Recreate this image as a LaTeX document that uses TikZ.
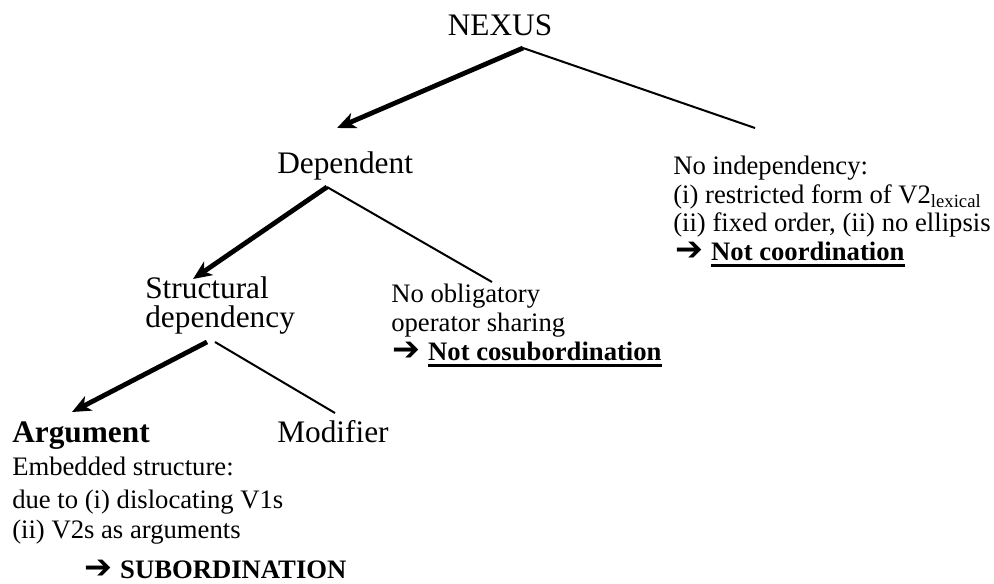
\documentclass[tikz,border=0pt]{standalone}
\usepackage{fontspec}
\setmainfont{Liberation Serif}
\newfontfamily\symfont{DejaVu Sans}
\usetikzlibrary{arrows.meta}

% type sizes for headings and for notes
\newcommand\headsize{\fontsize{23.5}{28}\selectfont}
\newcommand\notesize{\fontsize{20}{24}\selectfont}
% heavy right arrow and bold underlined conclusion
\newcommand\conclarrow{{\symfont\bfseries\fontsize{25}{25}\selectfont\raisebox{-0.5pt}{➔}}}
\newcommand\ulbold[1]{\setbox0=\hbox{\bfseries #1}\rlap{\rule[-5pt]{\wd0}{1.8pt}}\box0}

\begin{document}
\begin{tikzpicture}[x=0.75pt,y=-0.75pt,
  lbl/.style={inner sep=0pt,anchor=base west},
  head/.style={lbl,font=\headsize},
  note/.style={lbl,font=\notesize},
  branch/.style={line width=1.5pt},
  chosen/.style={line width=3.6pt,-{Stealth[length=14pt,width=12pt,inset=4pt]}}]
\useasboundingbox (0,0) rectangle (994,583);

% tree labels
\node[head,anchor=base] (nexus) at (500,35) {NEXUS};
\node[head] (dep) at (277,173) {Dependent};
\node[note] (ind1) at (673,174) {No independency:};
\node[note] (ind2) at (673,203) {(i) restricted form of V2\textsubscript{lexical}};
\node[note] (ind3) at (673,231) {(ii) fixed order, (ii) no ellipsis};
\node[note] (ind4) at (675,260) {\conclarrow\hspace{6pt}\ulbold{Not coordination}};
\node[head] (str1) at (145,298) {Structural};
\node[head] (str2) at (145,327) {dependency};
\node[note] (ops1) at (391,302) {No obligatory};
\node[note] (ops2) at (391,331) {operator sharing};
\node[note] (ops3) at (392,360) {\conclarrow\hspace{6pt}\ulbold{Not cosubordination}};
\node[head,font=\headsize\bfseries] (arg) at (12,442) {Argument};
\node[head] (mod) at (277,442) {Modifier};
\node[note] (emb1) at (12,475) {Embedded structure:};
\node[note] (emb2) at (12,508) {due to (i) dislocating V1s};
\node[note] (emb3) at (12,538) {(ii) V2s as arguments};
\node[note] (sub) at (84,578) {\conclarrow\hspace{6pt}\textbf{SUBORDINATION}};

% branching points and branch ends
\coordinate (nexus-fork) at (523,48);
\coordinate (dep-tip) at (337,128);
\coordinate (ind-end) at (755,128);
\coordinate (dep-fork) at (327,187);
\coordinate (str-tip) at (193,279);
\coordinate (ops-end) at (492,282);
\coordinate (str-forkL) at (207,342);
\coordinate (str-forkR) at (215,342);
\coordinate (arg-tip) at (72,412);
\coordinate (mod-end) at (335,413);

% branches: the followed path is bold with an arrow
\draw[chosen] (nexus-fork) -- (dep-tip);
\draw[branch] (nexus-fork) -- (ind-end);
\draw[chosen] (dep-fork) -- (str-tip);
\draw[branch] (dep-fork) -- (ops-end);
\draw[chosen] (str-forkL) -- (arg-tip);
\draw[branch] (str-forkR) -- (mod-end);
\end{tikzpicture}
\end{document}
